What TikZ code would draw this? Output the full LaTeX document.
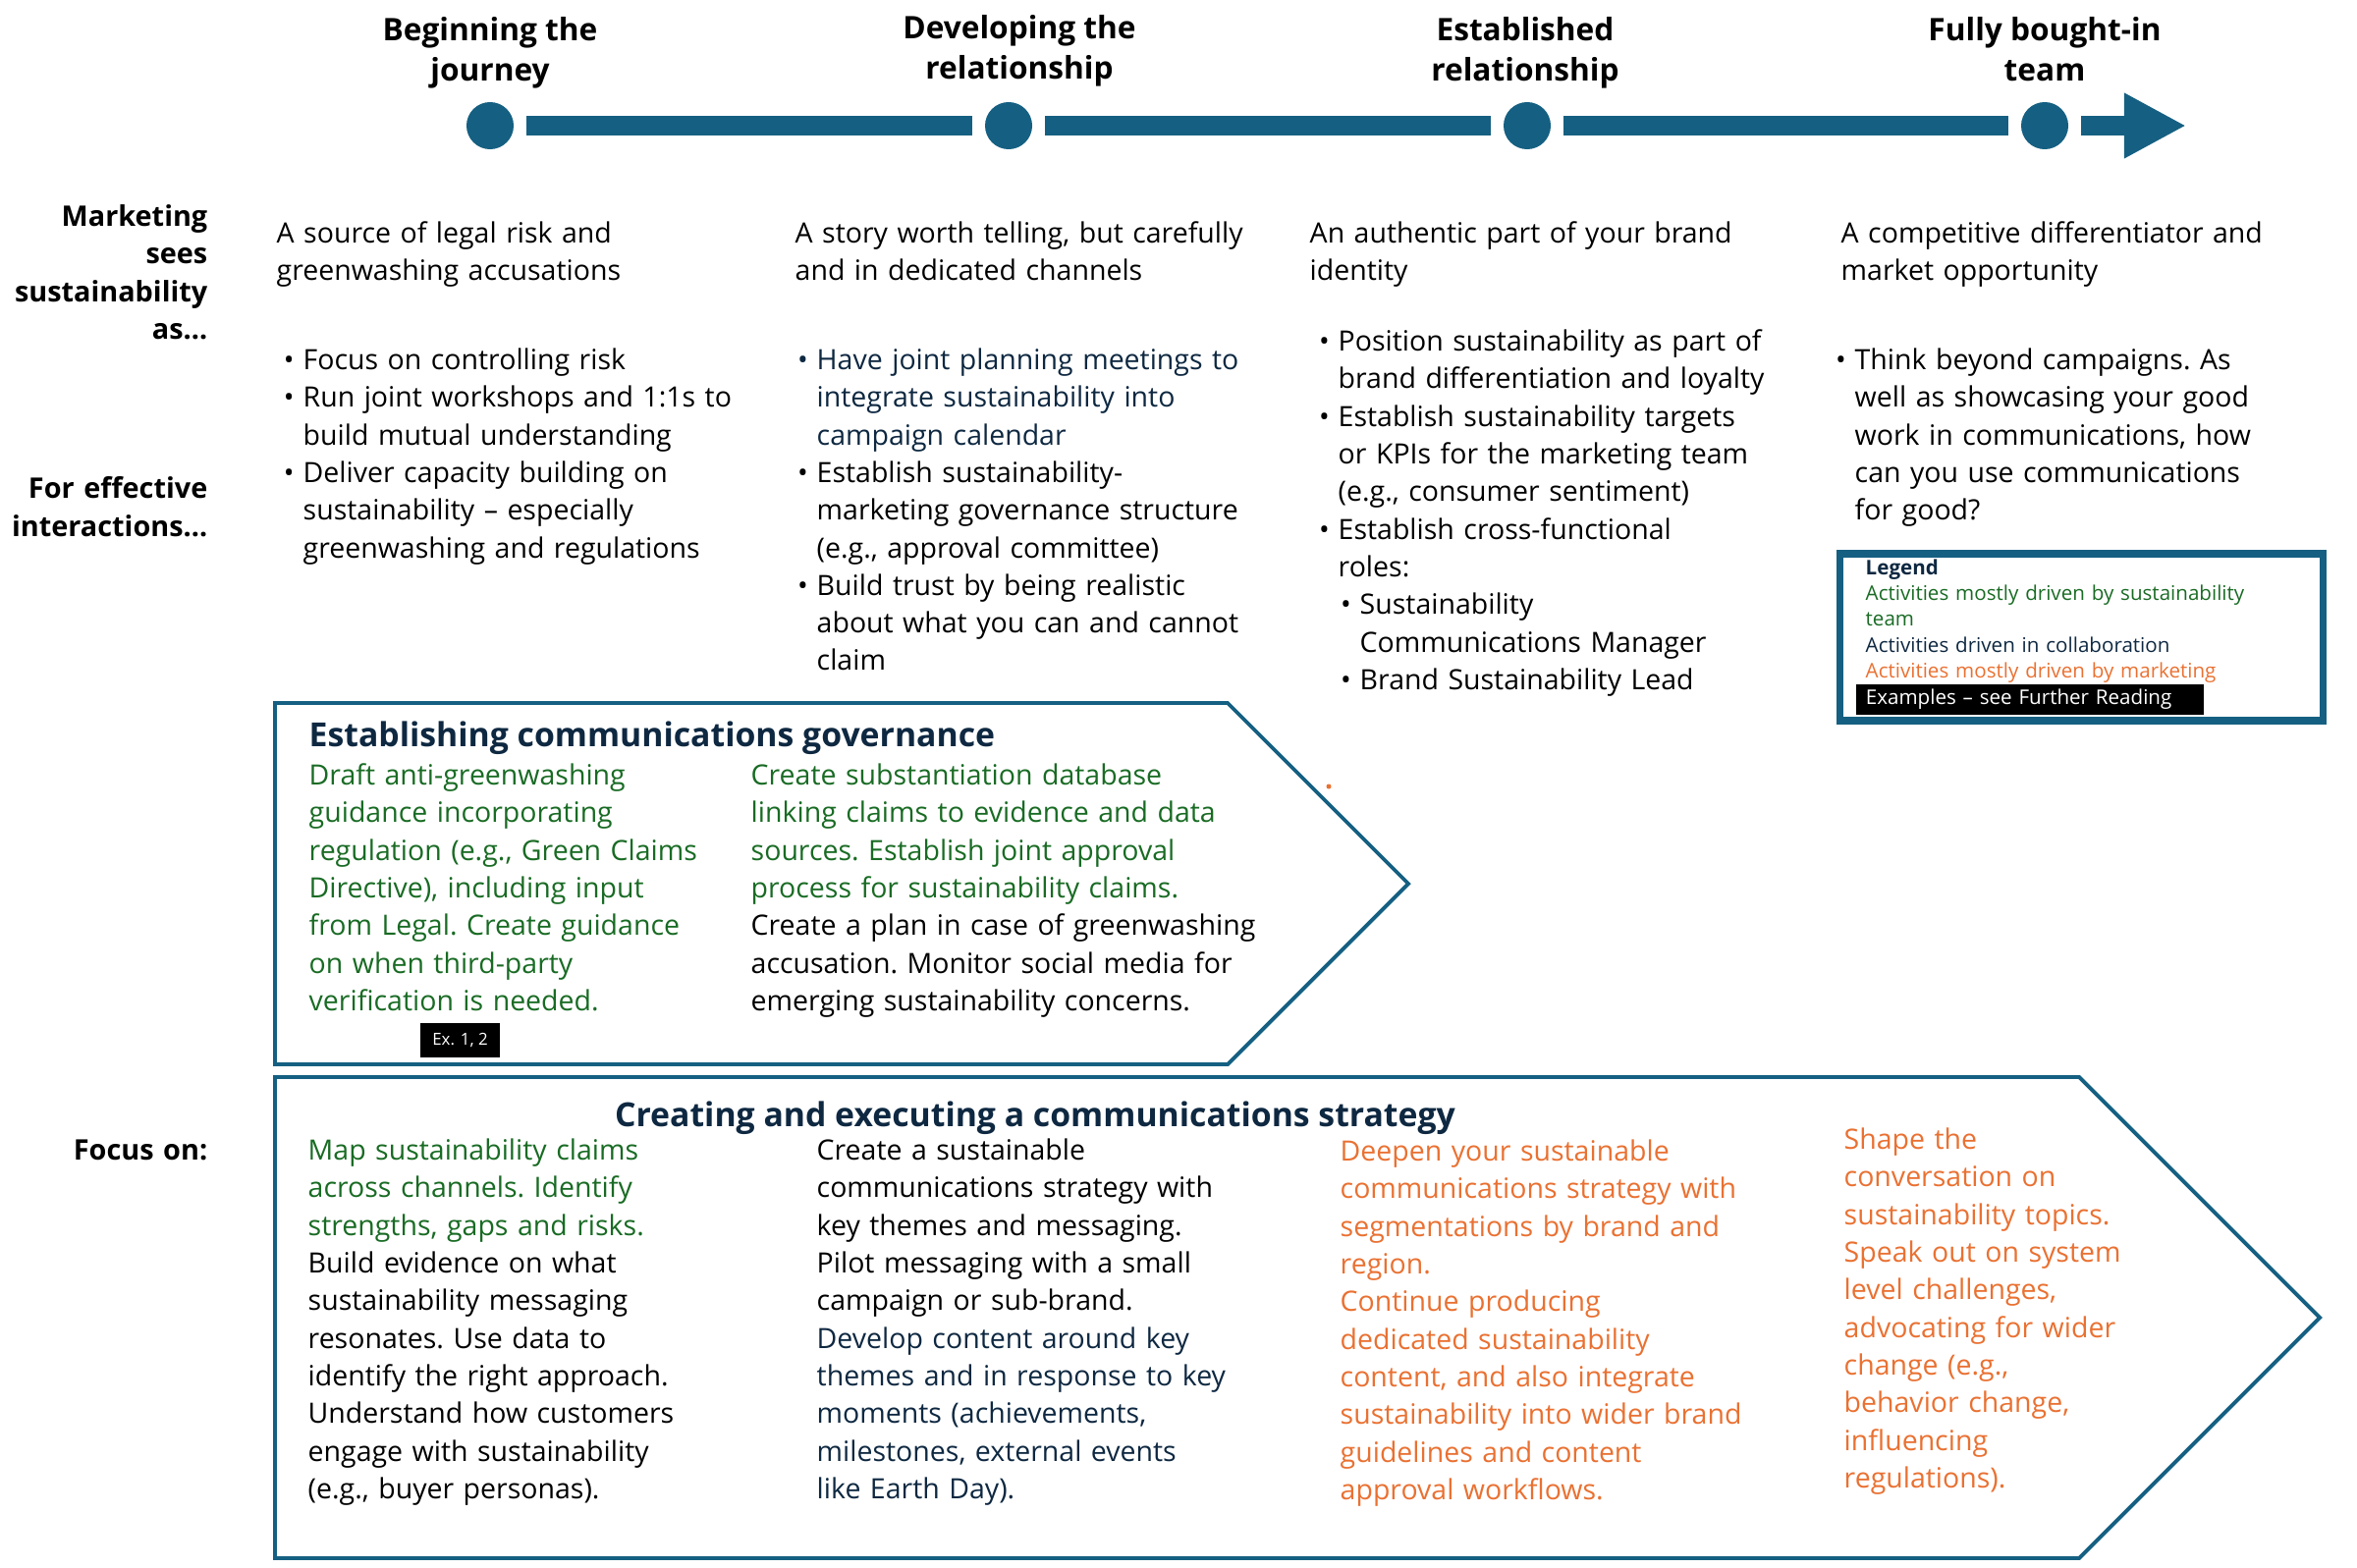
\documentclass[tikz,border=0pt]{standalone}
\usepackage{fontspec}
\setmainfont{Open Sans}
\usetikzlibrary{arrows.meta}
\definecolor{navy}{HTML}{0E2841}
\definecolor{leaf}{HTML}{196B24}
\definecolor{ember}{HTML}{E97132}
\definecolor{steel}{HTML}{156082}
\newcommand{\bodysize}{\fontsize{8.1}{10.9}\selectfont}
\newcommand{\itm}{\leavevmode\llap{\textbullet\hspace{0.09cm}}}
\newcommand{\sub}{\leavevmode\hspace*{0.22cm}}
\newcommand{\plain}{\setlength{\parindent}{0pt}\hyphenpenalty=10000\frenchspacing}

\begin{document}
\begin{tikzpicture}[
  x=0.01cm,y=-0.01cm,
  every node/.style={inner sep=0pt},
  stage/.style={circle,fill=steel,minimum size=0.48cm,outer sep=0.13cm},
  bar/.style={draw=steel,line width=0.2cm},
  stagetitle/.style={anchor=north,align=center,font=\bfseries\fontsize{9}{11.7}\selectfont},
  rowlabel/.style={anchor=north east,align=right,text width=2.3cm,font=\bfseries\fontsize{8.2}{10.9}\selectfont},
  body/.style={anchor=north west,align=left,text width=6cm,font=\bodysize,
    execute at begin node=\plain},
  boxtitle/.style={font=\bfseries\fontsize{9.6}{12}\selectfont,text=navy},
  frame/.style={draw=steel,line width=1.1pt,line join=miter},
  legendtext/.style={anchor=north west,align=left,text width=4.5cm,
    font=\fontsize{5.85}{7.47}\selectfont,execute at begin node=\plain},
  tag/.style={fill=black,text=white}
]
\useasboundingbox (0,0) rectangle (2400,1597);

% timeline
\node[stage] (s1) at (499,128) {};
\node[stage] (s2) at (1027,128) {};
\node[stage] (s3) at (1555,128) {};
\node[stage] (s4) at (2082,128) {};
\coordinate (tip) at (2226,128);
\draw[bar] (s1) -- (s2);
\draw[bar] (s2) -- (s3);
\draw[bar] (s3) -- (s4);
\draw[bar,-{Triangle[length=0.63cm,width=0.62cm]}] (s4) -- (tip);

\node[stagetitle] (t1) at (499,17) {Beginning the\\journey};
\node[stagetitle] (t2) at (1038,15) {Developing the\\relationship};
\node[stagetitle] (t3) at (1553,17) {Established\\relationship};
\node[stagetitle] (t4) at (2082,17) {Fully bought-in\\team};

% row labels
\node[rowlabel] (seesas) at (212,208) {Marketing\\sees\\sustainability\\as…};
\node[rowlabel] (interact) at (212,485) {For effective\\interactions…};
\node[rowlabel] (focus) at (212,1160) {Focus on:};

% how marketing sees it
\node[body] (see1) at (281,225) {A source of legal risk and\\greenwashing accusations};
\node[body] (see2) at (809,225) {A story worth telling, but carefully\\and in dedicated channels};
\node[body] (see3) at (1333,225) {An authentic part of your brand\\identity};
\node[body,text width=4.8cm] (see4) at (1874,225) {A competitive differentiator and\\market opportunity};

% interactions
\node[body] (act1) at (308,354) {\itm Focus on controlling risk\\
\itm Run joint workshops and 1:1s to\\build mutual understanding\\
\itm Deliver capacity building on\\sustainability – especially\\greenwashing and regulations};
\node[body] (act2) at (831,354) {\color{navy}\itm Have joint planning meetings to\\integrate sustainability into\\campaign calendar\\
\color{black}\itm Establish sustainability-\\marketing governance structure\\(e.g., approval committee)\\
\itm Build trust by being realistic\\about what you can and cannot\\claim};
\node[body] (act3) at (1362,335) {\itm Position sustainability as part of\\brand differentiation and loyalty\\
\itm Establish sustainability targets\\or KPIs for the marketing team\\(e.g., consumer sentiment)\\
\itm Establish cross-functional\\roles:\\
\sub\itm Sustainability\\\sub Communications Manager\\
\sub\itm Brand Sustainability Lead};
\node[body,text width=4.6cm] (act4) at (1888,354) {\itm Think beyond campaigns. As\\well as showcasing your good\\work in communications, how\\can you use communications\\for good?};

% legend
\draw[steel,line width=2pt] (1873,564) rectangle (2365,734);
\node[legendtext] (legend) at (1899,569) {\textbf{\color{navy}Legend}\\
\color{leaf}Activities mostly driven by sustainability\\team\\
\color{navy}Activities driven in collaboration\\
\color{ember}Activities mostly driven by marketing};
\node[tag,minimum height=0.31cm,text width=3.34cm,inner xsep=0.1cm,align=left,
  font=\fontsize{5.85}{7}\selectfont] (further) at (2067,712.5) {Examples – see Further Reading};

% governance chevron
\draw[frame] (280,716) -- (1250,716) -- (1434,900) -- (1250,1084) -- (280,1084) -- cycle;
\node[boxtitle,anchor=north west] (govtitle) at (314,734) {Establishing communications governance};
\node[body,text=leaf] (gov1) at (314,777) {Draft anti-greenwashing\\guidance incorporating\\regulation (e.g., Green Claims\\Directive), including input\\from Legal. Create guidance\\on when third-party\\verification is needed.};
\node[body] (gov2) at (764,777) {\color{leaf}Create substantiation database\\linking claims to evidence and data\\sources. Establish joint approval\\process for sustainability claims.\\
\color{black}Create a plan in case of greenwashing\\accusation. Monitor social media for\\emerging sustainability concerns.};
\node[tag,minimum width=0.81cm,minimum height=0.35cm,font=\fontsize{4.8}{6}\selectfont] (ex12) at (468.5,1059.5) {Ex. 1, 2};
\fill[ember] (1353,801) circle (0.025cm);

% strategy chevron
\draw[frame] (280,1097) -- (2117,1097) -- (2362,1342) -- (2117,1587) -- (280,1587) -- cycle;
\node[boxtitle,anchor=north] (strattitle) at (1054,1121) {Creating and executing a communications strategy};
\node[body] (strat1) at (313,1159) {\color{leaf}Map sustainability claims\\across channels. Identify\\strengths, gaps and risks.\\
\color{black}Build evidence on what\\sustainability messaging\\resonates. Use data to\\identify the right approach.\\Understand how customers\\engage with sustainability\\(e.g., buyer personas).};
\node[body] (strat2) at (831,1159) {Create a sustainable\\communications strategy with\\key themes and messaging.\\Pilot messaging with a small\\campaign or sub-brand.\\
\color{navy}Develop content around key\\themes and in response to key\\moments (achievements,\\milestones, external events\\like Earth Day).};
\node[body,text=ember] (strat3) at (1364,1160) {Deepen your sustainable\\communications strategy with\\segmentations by brand and\\region.\\Continue producing\\dedicated sustainability\\content, and also integrate\\sustainability into wider brand\\guidelines and content\\approval workflows.};
\node[body,text=ember,text width=3.5cm] (strat4) at (1877,1148) {Shape the\\conversation on\\sustainability topics.\\Speak out on system\\level challenges,\\advocating for wider\\change (e.g.,\\behavior change,\\influencing\\regulations).};
\end{tikzpicture}
\end{document}
